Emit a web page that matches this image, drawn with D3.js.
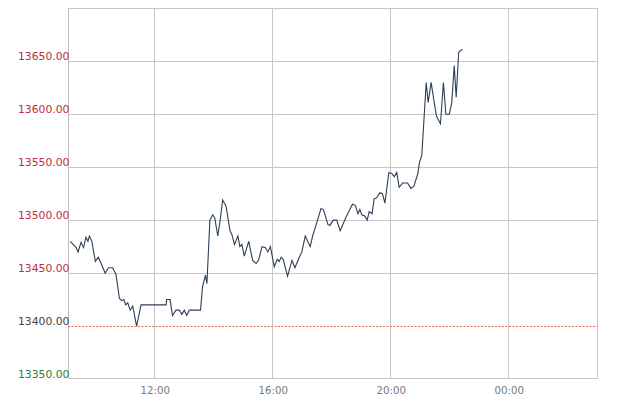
<!DOCTYPE html>
<html>
<head>
<meta charset="utf-8">
<script src="https://cdn.jsdelivr.net/npm/d3@7"></script>
<style>
  html, body { margin: 0; padding: 0; background: #fff; }
  svg { display: block; }
</style>
</head>
<body>
<svg id="chart" width="622" height="407"></svg>
<script>
// ---- data ----
const times = ["09:07","09:19","09:23","09:29","09:34","09:39","09:43","09:46","09:51","09:58",
  "10:04","10:08","10:18","10:25","10:33","10:40","10:47","10:52","10:56","11:00",
  "11:04","11:09","11:14","11:22","11:31","12:22","12:23","12:30","12:35","12:42",
  "12:49","12:54","12:59","13:04","13:09","13:32","13:36","13:42","13:45","13:51",
  "13:57","14:01","14:07","14:12","14:17","14:24","14:32","14:36","14:41","14:48",
  "14:52","14:56","15:01","15:10","15:18","15:25","15:30","15:37","15:44","15:49",
  "15:54","16:02","16:08","16:12","16:16","16:20","16:29","16:38","16:44","16:52",
  "16:58","17:05","17:15","17:20","17:30","17:37","17:42","17:51","17:55","18:02",
  "18:09","18:16","18:28","18:41","18:47","18:52","18:56","19:00","19:06","19:11",
  "19:15","19:21","19:25","19:30","19:37","19:42","19:47","19:55","20:01","20:06",
  "20:11","20:16","20:23","20:33","20:40","20:46","20:54","20:57","21:02","21:11",
  "21:15","21:21","21:28","21:32","21:40","21:46","21:51","21:58","22:03","22:08",
  "22:12","22:17","22:20","22:25"];
const prices = [13480,13474,13470,13479,13474,13484,13480,13485,13480,13461,
  13465,13461,13450,13455,13455,13449,13426,13424,13425,13420,
  13422,13415,13419,13400,13420,13420,13425,13425,13410,13415,
  13415,13411,13415,13410,13415,13415,13437,13448,13440,13500,
  13505,13502,13485,13500,13519,13513,13490,13486,13477,13485,
  13475,13477,13466,13480,13462,13459,13462,13475,13474,13470,
  13475,13456,13463,13461,13465,13463,13447,13462,13455,13464,
  13470,13485,13475,13485,13500,13511,13510,13496,13495,13500,
  13500,13490,13503,13515,13514,13506,13510,13505,13504,13500,
  13508,13506,13520,13521,13526,13525,13516,13545,13544,13541,
  13545,13531,13535,13535,13530,13532,13544,13554,13561,13630,
  13611,13630,13609,13598,13591,13630,13600,13600,13611,13646,
  13616,13658,13660,13661];
const yTicks = [13350, 13400, 13450, 13500, 13550, 13600, 13650];
const yGrid = [13450, 13500, 13550, 13600, 13650, 13700];
const xTickLabels = ["12:00", "16:00", "20:00", "00:00"];
const refValue = 13400;
const yDomain = [13350, 13700];
const xStart = "09:00", xEnd = "03:00"; // next day

// ---- setup ----
(function () {
const svg = d3.select("#chart");
const parse = s => {
  const [h, m] = s.split(":").map(Number);
  return new Date(2000, 0, 1, h, m);
};
const t0 = parse(xStart);
const t1 = d3.timeDay.offset(parse(xEnd), 1);
const tickDates = xTickLabels.map(s => {
  const d = parse(s);
  return d < t0 ? d3.timeDay.offset(d, 1) : d;
});
const data = times.map((t, i) => ({ t: parse(t), v: prices[i] }));

const pLeft = 66.8, pRight = 597.8, pTop = 8.3, pBottom = 379;
const x = d3.scaleTime().domain([t0, t1]).range([pLeft, pRight]);
const y = d3.scaleLinear().domain(yDomain).range([pBottom, pTop]);

const gridColor = "#c6c6c6";

// horizontal grid lines
svg.append("g")
  .selectAll("line").data(yGrid).join("line")
  .attr("x1", 68).attr("x2", 597.5)
  .attr("y1", d => Math.round(y(d)) + 0.5).attr("y2", d => Math.round(y(d)) + 0.5)
  .attr("stroke", gridColor).attr("stroke-width", 1);

// bottom line
svg.append("line")
  .attr("x1", 68).attr("x2", 597.5)
  .attr("y1", Math.round(y(13350)) - 0.5).attr("y2", Math.round(y(13350)) - 0.5)
  .attr("stroke", gridColor);

// vertical grid lines
svg.append("g")
  .selectAll("line").data(tickDates).join("line")
  .attr("x1", d => Math.round(x(d)) - 0.5).attr("x2", d => Math.round(x(d)) - 0.5)
  .attr("y1", pTop).attr("y2", pBottom)
  .attr("stroke", gridColor);

// left and right borders
svg.append("line").attr("x1", 68.5).attr("x2", 68.5).attr("y1", pTop).attr("y2", pBottom)
  .attr("stroke", "#bdbdbd");
svg.append("line").attr("x1", 597.5).attr("x2", 597.5).attr("y1", pTop).attr("y2", pBottom)
  .attr("stroke", gridColor);

// reference dashed line
svg.append("line")
  .attr("x1", 68).attr("x2", 597.5)
  .attr("y1", Math.round(y(refValue)) + 0.5).attr("y2", Math.round(y(refValue)) + 0.5)
  .attr("stroke", "#e2703c").attr("stroke-width", 1)
  .attr("stroke-dasharray", "2,1.5");

// y labels
const labelColor = v => v > refValue ? "#c22a45" : (v < refValue ? "#2f7a44" : "#444");
svg.append("g")
  .selectAll("text").data(yTicks).join("text")
  .attr("x", 69.5).attr("y", d => y(d) - 1.2)
  .attr("text-anchor", "end")
  .attr("font-family", "DejaVu Sans, sans-serif")
  .attr("font-size", 10.8)
  .attr("fill", labelColor)
  .text(d => d3.format(".2f")(d));

// x labels
svg.append("g")
  .selectAll("text").data(tickDates).join("text")
  .attr("x", d => x(d)).attr("y", 394)
  .attr("text-anchor", "middle")
  .attr("font-family", "DejaVu Sans, sans-serif")
  .attr("font-size", 10.2)
  .attr("fill", "#7a7a7a")
  .text((d, i) => xTickLabels[i]);

// price line
const line = d3.line().x(d => x(d.t)).y(d => y(d.v));
svg.append("path")
  .datum(data)
  .attr("d", line)
  .attr("fill", "none")
  .attr("stroke", "#2f3f55")
  .attr("stroke-width", 1.1)
  .attr("stroke-linejoin", "miter");
})();
</script>
</body>
</html>
